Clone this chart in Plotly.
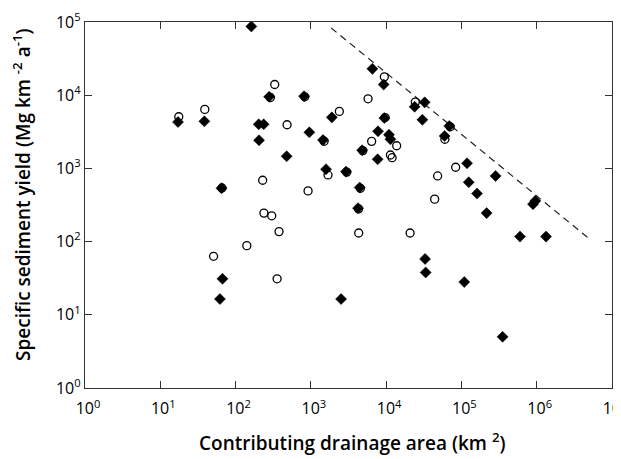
import plotly.graph_objects as go

# Filled diamonds
diamond_x = [162, 279, 812, 17.2, 38.5, 203, 236, 205, 955, 1450, 1900, 477, 1590, 2930,
             65, 67, 62, 2520, 6560, 9270, 23900, 32500, 30300, 9460, 69000, 59800, 7800,
             10900, 11400, 4790, 7710, 118600, 284000, 125000, 4450, 161000, 216000,
             893000, 957000, 4230, 600000, 1330000, 32900, 33500, 109000, 352000]
diamond_y = [87000, 9500, 9700, 4300, 4400, 4000, 4000, 2420, 3110, 2440, 4980, 1465, 973, 903,
             536, 31, 16.4, 16.4, 22900, 14000, 6950, 7980, 4620, 4870, 3790, 2770, 3210,
             2890, 2500, 1770, 1333, 1175, 789, 647, 547, 453, 245,
             325, 360, 286, 117, 117, 58, 37.9, 28, 5.0]

# Open circles
circle_x = [331, 17.6, 39, 483, 2390, 1690, 229, 918, 238, 302, 378, 141, 51, 356,
            9460, 5750, 24400, 60300, 6420, 13800, 11400, 12000, 83800, 48300, 44100,
            4320, 20800,
            290, 830, 1500, 9700, 71000, 4900, 3000, 4550, 4300, 66]
circle_y = [14000, 5080, 6400, 3950, 6010, 814, 689, 493, 245, 225, 137, 88, 63, 31,
            17800, 8930, 8050, 2500, 2340, 2040, 1525, 1400, 1037, 789, 380,
            131, 131,
            9300, 9500, 2350, 4950, 3700, 1750, 890, 535, 280, 540]

# Envelope line
line_x = [1860, 4.74e6]
line_y = [83000, 114]

x_tickvals = [1, 10, 100, 1e3, 1e4, 1e5, 1e6, 1e7]
x_ticktext = ["10<sup>%d</sup>" % i for i in range(8)]
y_tickvals = [1, 10, 100, 1e3, 1e4, 1e5]
y_ticktext = ["10<sup>%d</sup>" % i for i in range(6)]

x_title = "Contributing drainage area (km <sup>2</sup>)"
y_title = "Specific sediment yield (Mg km <sup>-2</sup> a<sup>-1</sup>)"

FONT = "Open Sans"

fig = go.Figure()
fig.add_trace(go.Scatter(x=line_x, y=line_y, mode="lines",
                         line=dict(color="#222", width=1.2, dash="7px,5px"),
                         showlegend=False, hoverinfo="skip"))
fig.add_trace(go.Scatter(x=circle_x, y=circle_y, mode="markers",
                         marker=dict(symbol="circle-open", size=8, color="black",
                                     line=dict(width=1.3, color="black")),
                         showlegend=False))
fig.add_trace(go.Scatter(x=diamond_x, y=diamond_y, mode="markers",
                         marker=dict(symbol="diamond", size=8.5, color="black",
                                     line=dict(width=0.5, color="black")),
                         showlegend=False))

axis_common = dict(type="log", showgrid=False, zeroline=False, showline=True,
                   linecolor="#333", linewidth=1.3, mirror="ticks", ticks="inside",
                   ticklen=7, tickwidth=1.2, tickcolor="#333", automargin=False,
                   ticklabeloverflow="allow",
                   tickfont=dict(family=FONT, size=16, color="black"))

title_font = dict(family=FONT, size=19, color="black", weight=600)

# the page body has an 8px margin, so the figure is shrunk and shifted accordingly
fig.update_layout(
    width=613, height=451,
    margin=dict(l=77, r=9, t=14, b=71),
    paper_bgcolor="white", plot_bgcolor="white",
    xaxis=dict(range=[0, 7], tickvals=x_tickvals, ticktext=x_ticktext,
               ticklabelstandoff=6, ticklabelshift=3, **axis_common),
    yaxis=dict(range=[0, 5], tickvals=y_tickvals, ticktext=y_ticktext, **axis_common),
    annotations=[
        dict(text=x_title, xref="paper", yref="paper", x=0.5, y=0, xanchor="center",
             yanchor="middle", xshift=4, yshift=-54, showarrow=False, font=title_font),
        dict(text=y_title, xref="paper", yref="paper", x=0, y=0.5, xanchor="center",
             yanchor="middle", xshift=-63, yshift=10, textangle=-90, showarrow=False,
             font=title_font),
    ],
)

fig.write_html("out.html")
